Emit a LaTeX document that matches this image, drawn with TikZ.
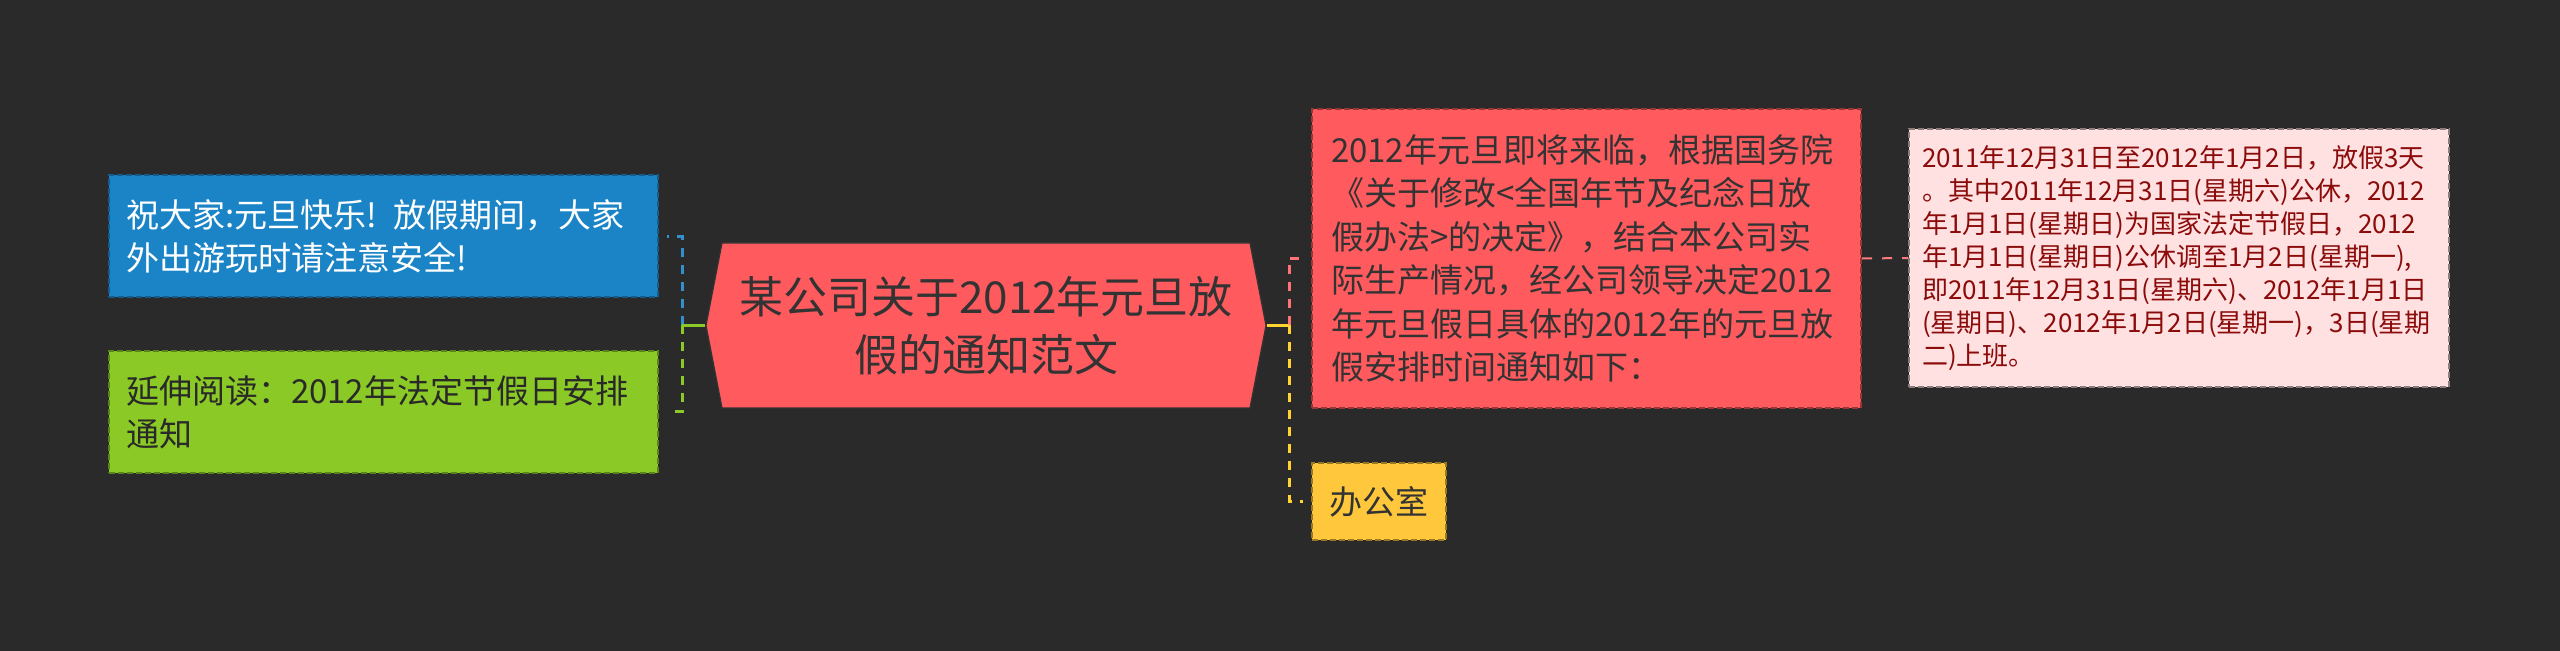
\documentclass[tikz,border=0pt]{standalone}
\usepackage{fontspec}
\setmainfont{Noto Sans CJK SC}
\usetikzlibrary{shapes.symbols,positioning,calc}
\definecolor{bgdark}{HTML}{2A2A2A}
\definecolor{rootred}{HTML}{FF5A5E}
\definecolor{tblue}{HTML}{1B84C6}
\definecolor{tgreen}{HTML}{8AC926}
\definecolor{tyellow}{HTML}{FFC83C}
\definecolor{lpink}{HTML}{FFE1E1}
\definecolor{darktext}{HTML}{333333}
\definecolor{wine}{HTML}{8B0A0A}

\begin{document}
\begin{tikzpicture}[x=0.5pt, y=-0.5pt,
    box/.style={rectangle, draw, dash pattern=on 3pt off 1.5pt, line width=1pt,
        inner xsep=#1, inner ysep=0pt, align=left, anchor=center},
    branch/.style={box=8.5pt, text width=257.5pt, minimum height=61pt,
        font=\fontsize{16.5}{21.5}\selectfont},
    stem/.style={line width=1.5pt},
    link/.style={line width=1.5pt, dash pattern=on 4.5pt off 4pt, shorten >=4pt}]

    % background
    \fill[bgdark] (0,0) rectangle (2560,651);
    \useasboundingbox (0,0) rectangle (2560,651);

    % central topic
    \node[shape=signal, signal to=west and east, signal pointer angle=158,
        fill=rootred, draw=darktext, line width=0.6pt, text=darktext, align=center,
        minimum width=280pt, minimum height=82.5pt, inner sep=0pt,
        font=\fontsize{22}{29}\selectfont] (root) at (986,325.5)
        {某公司关于2012年元旦放\\假的通知范文};

    % left branches
    \node[branch, fill=tblue, draw=tblue!70!black, text=white] (greeting) at (383.5,236.5)
        {祝大家:元旦快乐! 放假期间，大家\\外出游玩时请注意安全!};
    \node[branch, fill=tgreen, draw=tgreen!65!black, text=darktext!80!black] (reading) at (383.5,412)
        {延伸阅读：2012年法定节假日安排\\通知};

    % right branches
    \node[box=9.5pt, text width=255.5pt, minimum height=149.5pt, fill=rootred,
        draw=rootred!60!black, text=darktext, font=\fontsize{16.5}{21.75}\selectfont]
        (notice) at (1586.5,258.5)
        {2012年元旦即将来临，根据国务院\\《关于修改<全国年节及纪念日放\\假办法>的决定》，结合本公司实\\际生产情况，经公司领导决定2012\\年元旦假日具体的2012年的元旦放\\假安排时间通知如下：};
    \node[box=0pt, minimum width=67pt, minimum height=38.5pt, align=center, fill=tyellow,
        draw=tyellow!60!black, text=darktext, font=\fontsize{16.5}{20}\selectfont]
        (office) at (1379,501.5) {办公室};

    % detail
    \node[box=6.5pt, text width=257pt, minimum height=129pt, fill=lpink,
        draw=lpink!55!black, text=wine, font=\fontsize{13}{16.5}\selectfont]
        (holiday) at (2179,258)
        {2011年12月31日至2012年1月2日，放假3天\\。其中2011年12月31日(星期六)公休，2012\\年1月1日(星期日)为国家法定节假日，2012\\年1月1日(星期日)公休调至1月2日(星期一),\\即2011年12月31日(星期六)、2012年1月1日\\(星期日)、2012年1月2日(星期一)，3日(星期\\二)上班。};

    % connectors
    \coordinate (lbend) at (682,325.5);
    \coordinate (rbend) at (1289,325.5);
    \draw[link, tblue!90!white] (lbend) |- (greeting.east);
    \draw[link, tgreen] (lbend) |- (reading.east);
    \draw[stem, tgreen] (root.west) -- (lbend);
    \draw[link, rootred!85!white] (rbend) |- (notice.west);
    \draw[link, tyellow!80!yellow] (rbend) |- (office.west);
    \draw[stem, tyellow!80!yellow] (root.east) -- (rbend);
    \draw[line width=1pt, dash pattern=on 5pt off 5pt, rootred!80!white] (notice.east) -- (holiday.west);

\end{tikzpicture}
\end{document}
